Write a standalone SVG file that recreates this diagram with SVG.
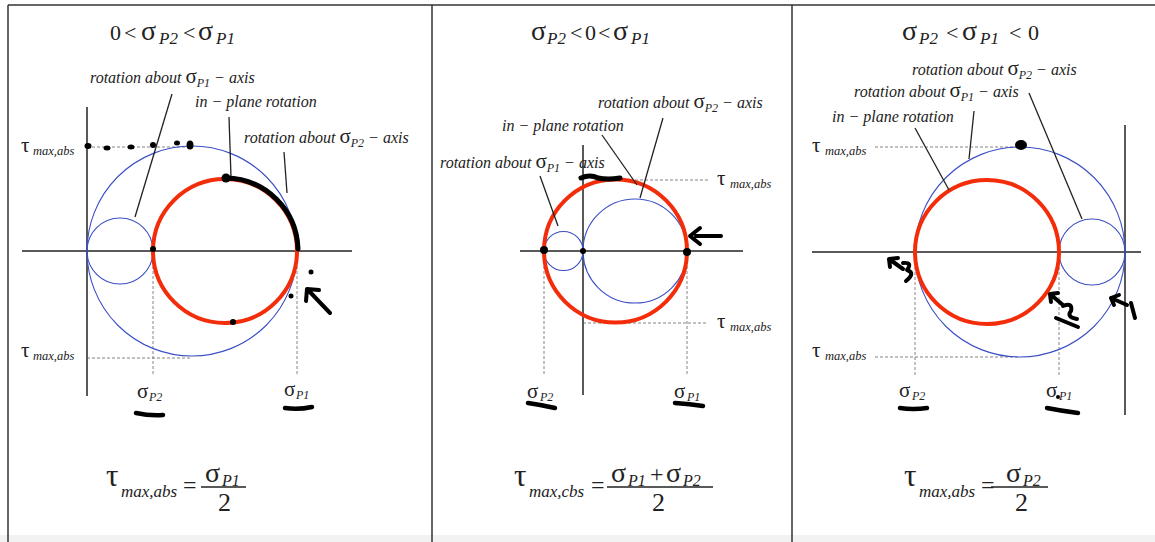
<svg xmlns="http://www.w3.org/2000/svg" width="1155" height="542" viewBox="0 0 1155 542">
<style>
.bg{fill:#fff}
.frame{stroke:#333;stroke-width:1.5;fill:none}
.axis{stroke:#222;stroke-width:1.5;fill:none}
.blue{stroke:#3b4fc4;stroke-width:1.1;fill:none}
.red{stroke:#f32d0a;stroke-width:4;fill:none}
.dash{stroke:#666;stroke-width:0.8;stroke-dasharray:3 2;fill:none}
.lead{stroke:#222;stroke-width:1.3;fill:none}
.ink{stroke:#000;stroke-linecap:round;stroke-linejoin:round;fill:none}
.dot{fill:#000}
text{font-family:"Liberation Serif","Times New Roman",serif;fill:#222}
.t{font-size:22px}
.tg{font-size:28px}
.ts{font-size:17px;font-style:italic}
.lbl{font-size:16px;font-style:italic}
.lg{font-size:21px;font-style:normal}
.lsb{font-size:12px;font-style:italic}
.tau{font-size:21px}
.taus{font-size:12.5px;font-style:italic}
.sg{font-size:21px}
.ssb{font-size:12px;font-style:italic}
.f{font-size:28px}
.ft{font-size:31px}
.fe{font-size:24px}
.fs{font-size:17px;font-style:italic}
.fss{font-size:16px;font-style:italic}
.f2{font-size:26px}
</style>
<rect class="bg" x="0" y="0" width="1155" height="542"/>
<rect x="0" y="535" width="1155" height="7" fill="#f2f2f2"/>
<g id="frame">
<line class="frame" x1="8" y1="5" x2="1155" y2="5"/>
<line class="frame" x1="8" y1="5" x2="8" y2="542"/>
<line class="frame" x1="432" y1="5" x2="432" y2="542"/>
<line class="frame" x1="792" y1="5" x2="792" y2="542"/>
</g>

<!-- Panel 1 -->
<g id="panel1">
<text class="t" y="40"><tspan x="110">0</tspan><tspan x="124">&lt;</tspan><tspan class="tg" x="141">σ</tspan><tspan class="ts" x="159" y="44">P2</tspan><tspan x="183" y="40">&lt;</tspan><tspan class="tg" x="198">σ</tspan><tspan class="ts" x="216" y="44">P1</tspan></text>
<line class="axis" x1="87" y1="107" x2="87" y2="396"/>
<line class="axis" x1="22" y1="251" x2="352" y2="251"/>
<line class="dash" x1="87" y1="147" x2="192" y2="147"/>
<line class="dash" x1="87" y1="358" x2="192" y2="358"/>
<line class="dash" x1="153" y1="251" x2="153" y2="375"/>
<line class="dash" x1="297" y1="251" x2="297" y2="375"/>
<circle id="p1-outer" class="blue" cx="192" cy="251" r="105"/>
<circle id="p1-small" class="blue" cx="120" cy="251" r="33"/>
<circle id="p1-inplane" class="red" cx="225" cy="251" r="72"/>
<text class="tau" x="21" y="152">τ<tspan class="taus" x="33" y="155">max,abs</tspan></text>
<text class="tau" x="21" y="357">τ<tspan class="taus" x="33" y="360">max,abs</tspan></text>
<text class="sg" x="137" y="398">σ<tspan class="ssb" x="149" y="401">P2</tspan></text>
<text class="sg" x="284" y="396">σ<tspan class="ssb" x="296" y="399">P1</tspan></text>
<text class="lbl" x="90" y="83">rotation about <tspan class="lg">σ</tspan><tspan class="lsb" dy="4">P1</tspan><tspan dy="-4"> − axis</tspan></text>
<text class="lbl" x="195" y="107">in − plane rotation</text>
<text class="lbl" x="244" y="143">rotation about <tspan class="lg">σ</tspan><tspan class="lsb" dy="4">P2</tspan><tspan dy="-4"> − axis</tspan></text>
<text class="ft" x="106" y="486">τ<tspan class="fs" x="121" y="497">max,abs</tspan><tspan class="fe" x="183" y="493">=</tspan><tspan class="f" x="205" y="482">σ</tspan><tspan class="fss" x="222" y="486">P1</tspan></text>
<line class="axis" x1="201" y1="487" x2="246" y2="487" stroke-width="1.2"/>
<text class="f2" x="218" y="511">2</text>
</g>

<!-- Panel 2 -->
<g id="panel2">
<text class="t" y="40"><tspan class="tg" x="531">σ</tspan><tspan class="ts" x="547" y="44">P2</tspan><tspan x="570" y="40">&lt;</tspan><tspan x="585">0</tspan><tspan x="598">&lt;</tspan><tspan class="tg" x="613">σ</tspan><tspan class="ts" x="631" y="44">P1</tspan></text>
<line class="axis" x1="583" y1="145" x2="583" y2="395"/>
<line class="axis" x1="520" y1="251" x2="743" y2="251"/>
<line class="dash" x1="615" y1="180" x2="708" y2="180"/>
<line class="dash" x1="583" y1="323" x2="708" y2="323"/>
<line class="dash" x1="544" y1="251" x2="544" y2="375"/>
<line class="dash" x1="687" y1="251" x2="687" y2="375"/>
<circle id="p2-small" class="blue" cx="563.5" cy="251" r="19.5"/>
<circle id="p2-large" class="blue" cx="635" cy="251" r="52"/>
<circle id="p2-inplane" class="red" cx="615.5" cy="251" r="71.5"/>
<text class="tau" x="717" y="185">τ<tspan class="taus" x="730" y="188">max,abs</tspan></text>
<text class="tau" x="717" y="328">τ<tspan class="taus" x="730" y="331">max,abs</tspan></text>
<text class="sg" x="527" y="398">σ<tspan class="ssb" x="540" y="401">P2</tspan></text>
<text class="sg" x="674" y="398">σ<tspan class="ssb" x="687" y="401">P1</tspan></text>
<text class="lbl" x="598" y="108">rotation about <tspan class="lg">σ</tspan><tspan class="lsb" dy="4">P2</tspan><tspan dy="-4"> − axis</tspan></text>
<text class="lbl" x="502" y="131">in − plane rotation</text>
<text class="lbl" x="440" y="168">rotation about <tspan class="lg">σ</tspan><tspan class="lsb" dy="4">P1</tspan><tspan dy="-4"> − axis</tspan></text>
<text class="ft" x="514" y="486">τ<tspan class="fs" x="529" y="497">max,cbs</tspan><tspan class="fe" x="591" y="493">=</tspan><tspan class="f" x="611" y="482">σ</tspan><tspan class="fss" x="628" y="486">P1</tspan><tspan class="fe" x="650" y="482">+</tspan><tspan class="f" x="666">σ</tspan><tspan class="fss" x="683" y="486">P2</tspan></text>
<line class="axis" x1="607" y1="487" x2="713" y2="487" stroke-width="1.2"/>
<text class="f2" x="652" y="511">2</text>
</g>

<!-- Panel 3 -->
<g id="panel3">
<text class="t" y="40"><tspan class="tg" x="902">σ</tspan><tspan class="ts" x="919" y="44">P2</tspan><tspan x="946" y="40">&lt;</tspan><tspan class="tg" x="962">σ</tspan><tspan class="ts" x="980" y="44">P1</tspan><tspan x="1009" y="40">&lt;</tspan><tspan x="1028">0</tspan></text>
<line class="axis" x1="1125" y1="125" x2="1125" y2="415"/>
<line class="axis" x1="812" y1="252" x2="1141" y2="252"/>
<line class="dash" x1="875" y1="147" x2="1020" y2="147"/>
<line class="dash" x1="875" y1="357" x2="1020" y2="357"/>
<line class="dash" x1="915" y1="252" x2="915" y2="377"/>
<line class="dash" x1="1059" y1="252" x2="1059" y2="377"/>
<circle id="p3-outer" class="blue" cx="1020" cy="252" r="105"/>
<circle id="p3-small" class="blue" cx="1092" cy="252" r="33"/>
<circle id="p3-inplane" class="red" cx="987" cy="252" r="72"/>
<text class="tau" x="812" y="152">τ<tspan class="taus" x="825" y="155">max,abs</tspan></text>
<text class="tau" x="812" y="357">τ<tspan class="taus" x="825" y="360">max,abs</tspan></text>
<text class="sg" x="899" y="397">σ<tspan class="ssb" x="912" y="400">P2</tspan></text>
<text class="sg" x="1046" y="397">σ<tspan class="ssb" x="1059" y="400">P1</tspan></text>
<text class="lbl" x="912" y="75">rotation about <tspan class="lg">σ</tspan><tspan class="lsb" dy="4">P2</tspan><tspan dy="-4"> − axis</tspan></text>
<text class="lbl" x="854" y="97">rotation about <tspan class="lg">σ</tspan><tspan class="lsb" dy="4">P1</tspan><tspan dy="-4"> − axis</tspan></text>
<text class="lbl" x="832" y="122">in − plane rotation</text>
<text class="ft" x="904" y="486">τ<tspan class="fs" x="919" y="497">max,abs</tspan><tspan class="fe" x="981" y="493">=</tspan><tspan class="f" x="1006" y="482">σ</tspan><tspan class="fss" x="1023" y="486">P2</tspan></text>
<line class="axis" x1="991" y1="487" x2="1048" y2="487" stroke-width="1.2"/>
<text class="f2" x="1015" y="511">2</text>
</g>

<!-- leader lines -->
<g id="connectors">
<line class="lead" x1="172" y1="94" x2="135" y2="217"/>
<line class="lead" x1="229" y1="117" x2="231" y2="177"/>
<line class="lead" x1="284" y1="152" x2="287" y2="193"/>
<line class="lead" x1="540" y1="176" x2="558" y2="226"/>
<line class="lead" x1="602" y1="135" x2="637" y2="185"/>
<line class="lead" x1="663" y1="118" x2="640" y2="198"/>
<line class="lead" x1="1029" y1="93" x2="1082" y2="219"/>
<line class="lead" x1="974" y1="111" x2="969" y2="159"/>
<line class="lead" x1="915" y1="128" x2="949" y2="190"/>
</g>

<!-- hand-drawn marks -->
<g id="marks">
<ellipse class="dot" cx="88" cy="146" rx="3.5" ry="3"/>
<ellipse class="dot" cx="107" cy="148" rx="3.5" ry="2.5"/>
<ellipse class="dot" cx="131" cy="147" rx="3.5" ry="2.5"/>
<ellipse class="dot" cx="153" cy="145" rx="3" ry="3"/>
<ellipse class="dot" cx="177" cy="143" rx="3" ry="2.5"/>
<ellipse class="dot" cx="190" cy="145" rx="3.5" ry="4.5"/>
<path class="ink" stroke-width="5" d="M226,178 A73,73 0 0 1 298,249"/>
<circle class="dot" cx="226" cy="178" r="4.5"/>
<circle class="dot" cx="153" cy="249" r="3"/>
<circle class="dot" cx="233" cy="322" r="3"/>
<circle class="dot" cx="311" cy="272" r="2.5"/>
<circle class="dot" cx="291" cy="296" r="2.5"/>
<path class="ink" stroke-width="4" d="M330,313 L309,291 M307,289 L306,301 M307,289 L319,290"/>
<path class="ink" stroke-width="4.5" d="M136,413 Q150,416 163,415"/>
<path class="ink" stroke-width="4.5" d="M285,408 Q298,410 312,407"/>

<circle class="dot" cx="544" cy="250" r="4"/>
<circle class="dot" cx="583" cy="251" r="3"/>
<circle class="dot" cx="687" cy="252" r="4"/>
<path class="ink" stroke-width="5" d="M581,178 Q590,174 598,178 Q608,180 620,178"/>
<path class="ink" stroke-width="4" d="M721,236 L696,236 M700,228 L690,236 L700,244"/>
<path class="ink" stroke-width="4.5" d="M528,403 Q542,405 555,408"/>
<path class="ink" stroke-width="4.5" d="M675,403 Q690,404 703,406"/>

<ellipse class="dot" cx="1021" cy="145" rx="6" ry="5"/>
<path class="ink" stroke-width="4" d="M889,259 L903,269 M889,259 L898,258 M889,259 L890,267 M903,263 Q913,262 907,270 Q916,273 906,281"/>
<path class="ink" stroke-width="4" d="M1050,294 L1063,305 M1050,294 L1058,293 M1050,294 L1051,302 M1063,306 Q1073,302 1071,311 Q1066,317 1077,319 M1056,318 L1078,327"/>
<path class="ink" stroke-width="4" d="M1111,298 L1127,305 M1111,298 L1119,295 M1111,298 L1114,305 M1131,303 L1135,318"/>
<path class="ink" stroke-width="4.5" d="M900,408 Q913,410 927,408"/>
<path class="ink" stroke-width="4.5" d="M1047,408 Q1062,411 1078,413"/>
<circle class="dot" cx="1058" cy="397" r="2"/>
</g>
</svg>
